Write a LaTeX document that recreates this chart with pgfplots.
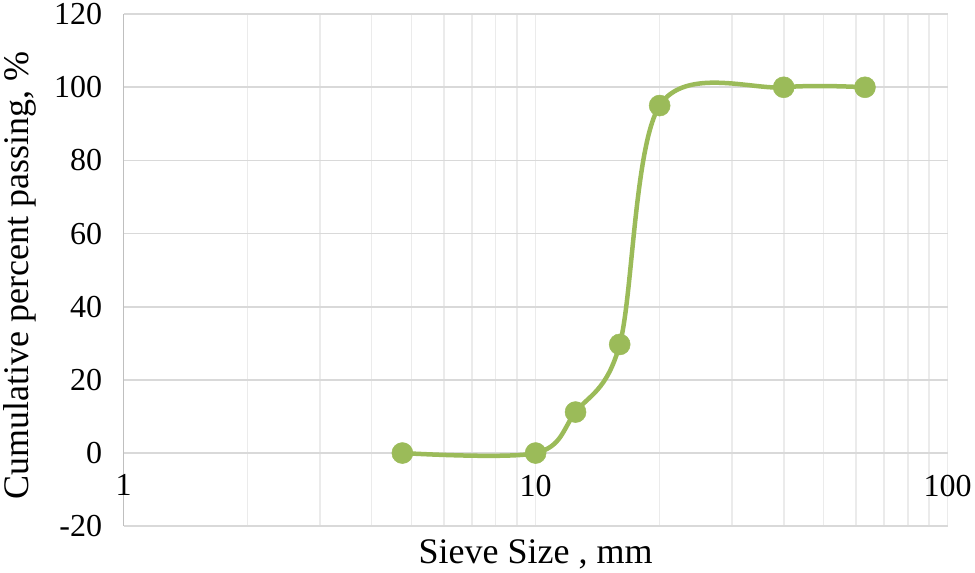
\documentclass[border=0pt]{standalone}
\usepackage{pgfplots}
\pgfplotsset{compat=1.18}
\usepackage{fontspec}
\setmainfont{Liberation Serif}
\definecolor{sievegreen}{HTML}{9BBB59}
\definecolor{axisgrey}{HTML}{BFBFBF}
\definecolor{hgrid}{HTML}{D9D9D9}
\definecolor{vgrid}{HTML}{EBEBEB}
\begin{document}
\begin{tikzpicture}
\begin{axis}[
    scale only axis,
    width=824pt, height=512pt,
    xmode=log,
    xmin=1, xmax=100, ymin=-20, ymax=120,
    separate axis lines,
    axis x line=bottom, axis y line=left,
    x axis line style={-, draw=none},
    y axis line style={-, draw=axisgrey, line width=1.6pt},
    xtick={1,10,100}, xticklabels={1,10,100},
    minor xtick={2,...,9,20,30,40,50,60,70,80,90},
    ytick={-20,20,40,60,80,100,120},
    yticklabels={-20,20,40,60,80,100,120},
    extra y ticks={0}, extra y tick labels={0},
    extra y tick style={major grid style={draw=axisgrey, line width=1.6pt}},
    major tick length=0pt, minor tick length=0pt,
    xmajorgrids, xminorgrids, ymajorgrids,
    major x grid style={draw=vgrid, line width=1.6pt},
    minor x grid style={draw=vgrid, line width=1.6pt},
    major y grid style={draw=hgrid, line width=1.6pt},
    tick label style={font=\fontsize{32}{38}\selectfont},
    xticklabel style={anchor=north, yshift=55pt},
    yticklabel style={anchor=east, xshift=-18pt},
    label style={font=\fontsize{36}{43}\selectfont},
    xlabel={Sieve Size , mm},
    ylabel={Cumulative percent passing, \%},
    xlabel style={at={(axis description cs:0.5,0)}, anchor=north, yshift=-10pt},
    ylabel style={at={(axis description cs:-0.126,0.49)}, anchor=center},
]
\addplot[sievegreen, line width=4.5pt, smooth, tension=0.55,
         mark=*, mark size=10.5pt, mark options={solid, fill=sievegreen, draw=sievegreen, line width=0.5pt}]
  coordinates {(4.75,0) (10,0) (12.5,11.2) (16,29.7) (20,95) (40,100) (63,100)};
\end{axis}
\end{tikzpicture}
\end{document}
